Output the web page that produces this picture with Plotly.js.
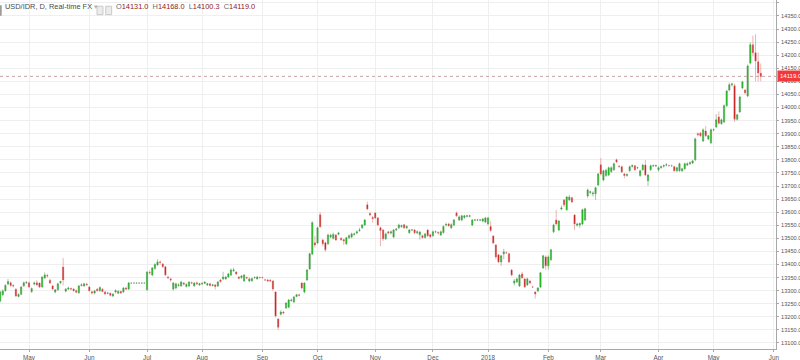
<!DOCTYPE html>
<html>
<head>
<meta charset="utf-8">
<script src="https://cdn.plot.ly/plotly-3.0.1.min.js"></script>
<style>
html,body{margin:0;padding:0;background:#ffffff;}
#chart{width:800px;height:360px;}
</style>
</head>
<body>
<div id="chart"></div>
<script>
// USD/IDR daily candles, trading-day index (0 = 1 May 2017)
const firstIndex = -11;

const openV = [
13260,13284,13300,13325,13330,13320,13305,13278,13286,13318,13330,
13330,13296,13325,13330,13329,13314,13348,13358,13340,13318,
13295,13303,13330,13390,13298,13306,13308,13306,13300,13292,
13320,13318,13325,13314,13296,13291,13305,13300,13305,13295,
13290,13290,13280,13295,13290,13297,13295,13310,13306,13329,
13329,13329,13329,13329,13329,13303,13370,13360,13385,13398,
13410,13402,13391,13352,13345,13306,13310,13320,13318,13329,
13316,13318,13330,13318,13330,13322,13326,13328,13322,13326,
13320,13322,13318,13341,13345,13345,13352,13360,13376,13371,
13352,13350,13337,13350,13337,13338,13350,13345,13350,13350,
13341,13341,13340,13337,13295,13192,13210,13218,13234,13237,
13262,13257,13278,13284,13329,13295,13341,13383,13440,13483,
13482,13590,13494,13483,13479,13505,13500,13513,13516,13500,
13495,13479,13502,13505,13515,13520,13530,13540,13551,13628,
13595,13580,13597,13578,13540,13532,13498,13525,13520,13505,
13532,13540,13545,13552,13540,13521,13532,13532,13521,13514,
13510,13503,13532,13514,13510,13525,13522,13513,13522,13551,
13555,13540,13551,13597,13570,13570,13580,13584,13584,13551,
13570,13570,13570,13566,13562,13555,13545,13509,13475,13437,
13410,13441,13445,13441,13379,13329,13333,13318,13364,13345,
13322,13337,13314,13295,13299,13314,13387,13429,13395,13418,
13525,13570,13532,13612,13647,13609,13647,13655,13589,13550,
13551,13555,13570,13662,13675,13670,13670,13704,13781,13723,
13740,13742,13755,13762,13800,13776,13774,13746,13740,13758,
13775,13777,13770,13740,13762,13780,13720,13762,13777,13777,
13762,13770,13776,13780,13778,13778,13774,13758,13758,13758,
13766,13780,13785,13788,13800,13900,13902,13872,13910,13880,
13865,13915,13926,13964,13938,13945,14007,14067,14087,14083,
13955,13983,14075,14067,14044,14170,14240,14209,14175,14131
];

const highV = [
13300,13305,13325,13345,13335,13325,13310,13290,13318,13335,13336,
13335,13312,13335,13340,13332,13355,13370,13365,13345,13322,
13306,13330,13338,13425,13310,13315,13312,13310,13305,13322,
13328,13330,13330,13318,13300,13303,13310,13316,13310,13300,
13296,13293,13290,13305,13302,13300,13314,13315,13333,13329,
13329,13329,13329,13329,13329,13375,13378,13390,13405,13420,
13416,13406,13395,13358,13350,13333,13330,13328,13338,13333,
13328,13336,13335,13333,13335,13330,13332,13336,13330,13330,
13326,13326,13337,13345,13372,13356,13368,13385,13388,13375,
13356,13360,13364,13355,13350,13350,13355,13356,13354,13354,
13345,13345,13344,13340,13298,13195,13225,13222,13256,13268,
13270,13280,13288,13288,13333,13332,13383,13445,13565,13510,
13545,13600,13498,13487,13518,13518,13522,13517,13525,13505,
13498,13506,13515,13522,13522,13530,13540,13555,13574,13640,
13600,13585,13600,13582,13545,13536,13522,13528,13530,13536,
13540,13556,13552,13555,13550,13536,13536,13536,13530,13528,
13514,13521,13536,13518,13530,13530,13527,13530,13550,13560,
13560,13558,13574,13603,13588,13590,13590,13590,13590,13574,
13574,13574,13574,13578,13582,13582,13565,13512,13478,13440,
13437,13460,13450,13445,13383,13345,13350,13364,13372,13350,
13350,13340,13318,13298,13314,13372,13437,13435,13435,13460,
13556,13609,13570,13625,13650,13662,13665,13660,13593,13560,
13560,13613,13617,13690,13682,13680,13697,13750,13807,13762,
13766,13775,13775,13790,13805,13780,13778,13750,13748,13778,
13782,13780,13774,13762,13785,13800,13746,13782,13782,13782,
13775,13778,13782,13788,13782,13782,13778,13774,13790,13770,
13790,13790,13794,13800,13885,13905,13906,13920,13930,13896,
13920,13920,13975,13985,13958,14012,14067,14095,14095,14090,
13976,14045,14102,14070,14165,14250,14275,14280,14210,14168
];

const lowV = [
13255,13280,13296,13320,13315,13312,13275,13275,13283,13315,13326,
13310,13292,13320,13318,13310,13312,13345,13350,13325,13302,
13290,13300,13325,13320,13294,13302,13302,13296,13290,13288,
13316,13315,13318,13296,13285,13286,13296,13296,13294,13282,
13286,13278,13275,13290,13288,13287,13292,13303,13303,13329,
13329,13329,13329,13329,13329,13300,13362,13355,13380,13395,
13400,13388,13356,13345,13335,13300,13305,13315,13315,13320,
13312,13314,13325,13315,13322,13318,13322,13325,13318,13316,
13316,13305,13314,13330,13340,13342,13350,13356,13372,13360,
13343,13345,13333,13344,13333,13334,13346,13342,13346,13346,
13337,13333,13334,13300,13198,13150,13205,13210,13230,13234,
13258,13253,13275,13278,13305,13290,13337,13380,13436,13465,
13478,13540,13470,13450,13475,13500,13495,13490,13512,13490,
13475,13475,13498,13500,13510,13515,13525,13536,13548,13608,
13585,13560,13573,13546,13470,13490,13494,13515,13515,13500,
13528,13536,13540,13536,13535,13518,13528,13516,13515,13495,
13498,13499,13505,13500,13506,13520,13515,13509,13518,13545,
13544,13536,13546,13582,13566,13566,13575,13580,13580,13546,
13566,13566,13566,13562,13558,13550,13525,13478,13420,13405,
13395,13420,13440,13405,13355,13320,13330,13314,13345,13310,
13318,13325,13310,13270,13295,13310,13383,13380,13380,13414,
13520,13550,13528,13608,13620,13605,13643,13635,13532,13545,
13540,13550,13566,13655,13670,13660,13647,13700,13740,13718,
13735,13738,13750,13758,13788,13770,13750,13730,13735,13754,
13770,13758,13765,13735,13758,13738,13700,13758,13772,13772,
13755,13766,13770,13775,13774,13772,13755,13754,13755,13754,
13762,13776,13780,13784,13795,13890,13888,13868,13888,13875,
13860,13910,13922,13935,13934,13940,14002,14062,14080,13945,
13950,13980,14070,14050,14040,14165,14195,14100,14100,14100.3
];

const closeV = [
13295,13299,13320,13335,13320,13318,13280,13285,13314,13330,13332,
13314,13308,13329,13322,13314,13352,13360,13356,13329,13306,
13303,13326,13335,13341,13306,13310,13306,13300,13294,13318,
13322,13326,13323,13300,13291,13299,13300,13312,13297,13287,
13290,13282,13287,13300,13297,13291,13310,13306,13329,13329,
13329,13329,13329,13329,13329,13371,13368,13387,13400,13410,
13408,13391,13360,13349,13341,13329,13326,13322,13333,13325,
13324,13333,13329,13329,13326,13326,13328,13333,13326,13320,
13322,13316,13333,13335,13352,13352,13364,13379,13379,13364,
13347,13356,13360,13348,13345,13346,13350,13352,13350,13350,
13341,13337,13337,13306,13203,13160,13218,13215,13253,13264,
13264,13276,13284,13282,13310,13329,13379,13441,13560,13475,
13540,13544,13479,13456,13513,13512,13515,13494,13520,13495,
13490,13502,13510,13517,13517,13525,13532,13551,13570,13612,
13589,13575,13578,13551,13530,13498,13517,13520,13525,13532,
13535,13551,13548,13540,13545,13532,13532,13521,13525,13524,
13503,13517,13510,13506,13525,13525,13520,13525,13545,13553,
13548,13552,13570,13586,13582,13586,13586,13586,13586,13570,
13570,13570,13570,13574,13578,13578,13530,13482,13429,13410,
13433,13448,13445,13410,13360,13337,13345,13360,13349,13314,
13345,13329,13314,13287,13310,13368,13433,13395,13429,13456,
13551,13555,13566,13616,13628,13658,13658,13639,13555,13555,
13557,13609,13613,13685,13678,13673,13693,13746,13746,13758,
13760,13770,13770,13785,13792,13774,13754,13740,13744,13774,
13778,13762,13770,13758,13780,13742,13742,13777,13778,13778,
13770,13774,13778,13781,13778,13778,13758,13770,13785,13766,
13785,13785,13789,13796,13880,13896,13892,13915,13892,13892,
13915,13915,13953,13940,13953,14007,14063,14087,14090,13955,
13972,14040,14098,14056,14159,14240,14209,14178,14132,14119
];

const monthTickIndex = [0, 23, 45, 66, 89, 110, 132, 154, 175, 198, 218, 240, 261, 284];
const monthTickText  = ['May','Jun','Jul','Aug','Sep','Oct','Nov','Dec','2018','Feb','Mar','Apr','May','Jun'];

const symbolName = 'USD/IDR, D, Real-time FX';

const xIdx = openV.map((_, k) => firstIndex + k);
const n = closeV.length;
const lastO = openV[n-1], lastH = highV[n-1], lastL = lowV[n-1], lastC = closeV[n-1];
const f1 = v => v.toFixed(1);

const trace = {
  type: 'candlestick',
  x: xIdx,
  open: openV, high: highV, low: lowV, close: closeV,
  whiskerwidth: 0,
  increasing: {line: {color: '#4f8f4f', width: 0.5}, fillcolor: '#12cc12'},
  decreasing: {line: {color: '#d86868', width: 0.5}, fillcolor: '#c30808'},
  hoverinfo: 'skip',
  showlegend: false
};

const FONT = 'Liberation Sans, Arial, sans-serif';

const layout = {
  width: 800, height: 360,
  margin: {l: 0, r: 24, t: 0, b: 11, pad: 0},
  paper_bgcolor: '#ffffff', plot_bgcolor: '#ffffff',
  font: {family: FONT, size: 6, color: '#555555'},
  showlegend: false,
  xaxis: {
    range: [-11.06, 284.8],
    tickmode: 'array', tickvals: monthTickIndex, ticktext: monthTickText,
    showgrid: true, gridcolor: '#efefef', gridwidth: 1,
    zeroline: false, showline: true, linecolor: '#a8a8a8', linewidth: 1,
    ticks: 'outside', ticklen: 2, tickcolor: '#a8a8a8',
    tickfont: {family: FONT, size: 6.3, color: '#555555'},
    rangeslider: {visible: false}, fixedrange: true
  },
  yaxis: {
    side: 'right', range: [13077, 14411],
    tickmode: 'linear', tick0: 13100, dtick: 50, tickformat: '.1f',
    showgrid: true, gridcolor: '#efefef', gridwidth: 1,
    zeroline: false, showline: true, linecolor: '#a8a8a8', linewidth: 1,
    ticks: 'outside', ticklen: 2, tickcolor: '#a8a8a8',
    ticklabelstandoff: 1,
    tickfont: {family: FONT, size: 5.6, color: '#555555'}, fixedrange: true
  },
  shapes: [
    {type: 'line', xref: 'paper', x0: 0, x1: 1, yref: 'y', y0: lastC, y1: lastC,
     line: {color: '#c9a3a3', width: 1, dash: 'dot'}, layer: 'above'},
    {type: 'line', xref: 'paper', yref: 'paper', x0: 0.0012, x1: 0.0012, y0: 0.985, y1: 0.955,
     line: {color: '#555555', width: 1}},
    {type: 'rect', xref: 'paper', yref: 'paper', x0: 0.1250, x1: 0.1327, y0: 0.982, y1: 0.958,
     line: {color: '#c9c9c9', width: 1}, fillcolor: '#ececec'},
    {type: 'rect', xref: 'paper', yref: 'paper', x0: 0.1362, x1: 0.1439, y0: 0.982, y1: 0.958,
     line: {color: '#c9c9c9', width: 1}, fillcolor: '#ececec'}
  ],
  annotations: [
    {xref: 'paper', yref: 'paper', x: 0.004, y: 0.999, xanchor: 'left', yanchor: 'top',
     showarrow: false, text: symbolName + ' <span style="color:#b5b5b5">▾</span>',
     font: {family: FONT, size: 7.4, color: '#4a4a4a'}},
    {xref: 'paper', yref: 'paper', x: 0.147, y: 0.999, xanchor: 'left', yanchor: 'top',
     showarrow: false,
     text: 'O<span style="color:#8e1b1b">' + f1(lastO) + '</span>  H<span style="color:#8e1b1b">' + f1(lastH) +
           '</span>  L<span style="color:#8e1b1b">' + f1(lastL) + '</span>  C<span style="color:#8e1b1b">' + f1(lastC) + '</span>',
     font: {family: FONT, size: 7.4, color: '#6a6a6a'}},
    {xref: 'paper', yref: 'y', x: 1.001, y: lastC, xanchor: 'left', yanchor: 'middle',
     showarrow: false, text: f1(lastC), bgcolor: '#f23838', borderpad: 2,
     font: {family: FONT, size: 6, color: '#ffffff'}}
  ]
};

Plotly.newPlot('chart', [trace], layout, {staticPlot: true, displayModeBar: false});
</script>
</body>
</html>
